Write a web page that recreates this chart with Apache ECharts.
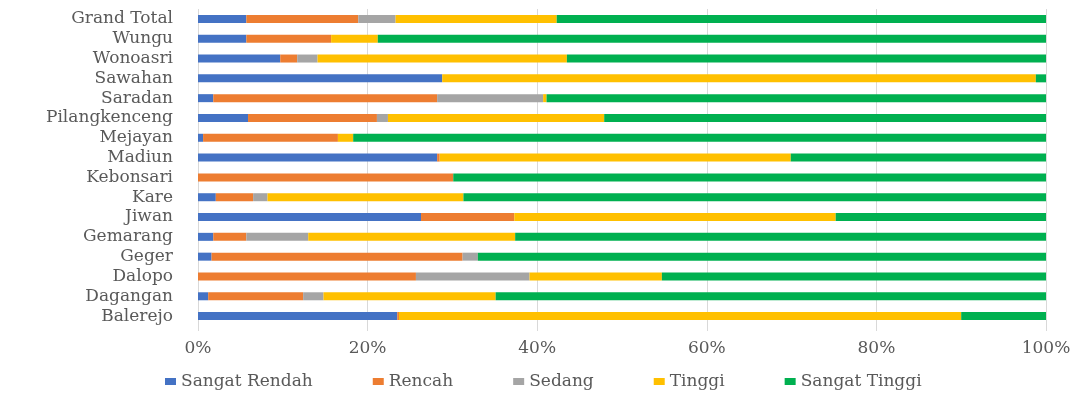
<!DOCTYPE html>
<html>
<head>
<meta charset="utf-8">
<script src="https://cdn.jsdelivr.net/npm/echarts@6/dist/echarts.min.js"></script>
<style>
html,body{margin:0;padding:0;background:#fff;}
#chart{width:1082px;height:393px;}
</style>
</head>
<body>
<div id="chart"></div>
<script>
// Categories listed bottom to top
const categories = ['Balerejo','Dagangan','Dalopo','Geger','Gemarang','Jiwan','Kare','Kebonsari','Madiun','Mejayan','Pilangkenceng','Saradan','Sawahan','Wonoasri','Wungu','Grand Total'];
const seriesNames = ['Sangat Rendah','Rencah','Sedang','Tinggi','Sangat Tinggi'];
const sangatRendah = [23.5, 1.2, 0, 1.6, 1.8, 26.3, 2.1, 0, 28.2, 0.6, 5.9, 1.8, 28.8, 9.7, 5.7, 5.7];
const rencah       = [0.2, 11.2, 25.7, 29.6, 3.9, 11.0, 4.4, 30.1, 0.3, 15.9, 15.2, 26.4, 0, 2.0, 10.0, 13.2];
const sedang       = [0, 2.4, 13.4, 1.8, 7.3, 0, 1.7, 0, 0, 0, 1.3, 12.5, 0, 2.4, 0, 4.4];
const tinggi       = [66.3, 20.3, 15.6, 0, 24.4, 37.9, 23.1, 0, 41.4, 1.8, 25.5, 0.4, 70.0, 29.4, 5.5, 19.0];
const sangatTinggi = [10.0, 64.9, 45.3, 67.0, 62.6, 24.8, 68.7, 69.9, 30.1, 81.7, 52.1, 58.9, 1.2, 56.5, 78.8, 57.7];
const xTicks = [0, 20, 40, 60, 80, 100];

const colors = ['#4472C4','#ED7D31','#A5A5A5','#FFC000','#00B050'];
const allData = [sangatRendah, rencah, sedang, tinggi, sangatTinggi];
const FONT = 'DejaVu Serif';
const TXT = '#595959';

const chart = echarts.init(document.getElementById('chart'));
chart.setOption({
  animation: false,
  color: colors,
  grid: { left: 198, right: 36, top: 9, bottom: 67, containLabel: false },
  legend: {
    data: seriesNames,
    left: 160,
    top: 368,
    itemGap: 60,
    itemWidth: 11,
    itemHeight: 7,
    icon: 'rect',
    textStyle: { fontFamily: FONT, fontSize: 17, color: TXT }
  },
  xAxis: {
    type: 'value',
    min: 0,
    max: 100,
    interval: 20,
    axisLine: { show: false },
    axisTick: { show: true, length: 5, lineStyle: { color: '#D9D9D9' } },
    splitLine: { show: true, lineStyle: { color: '#D9D9D9', width: 1 } },
    axisLabel: {
      margin: 14,
      fontFamily: FONT, fontSize: 17, color: TXT,
      formatter: v => xTicks.includes(v) ? v + '%' : ''
    }
  },
  yAxis: {
    type: 'category',
    data: categories,
    axisLine: { show: false },
    axisTick: { show: false },
    axisLabel: { interval: 0, margin: 25, fontFamily: FONT, fontSize: 17, color: TXT }
  },
  series: seriesNames.map((name, i) => ({
    name: name,
    type: 'bar',
    stack: 'total',
    barWidth: 8,
    data: allData[i],
    itemStyle: { color: colors[i] }
  }))
});
</script>
</body>
</html>
